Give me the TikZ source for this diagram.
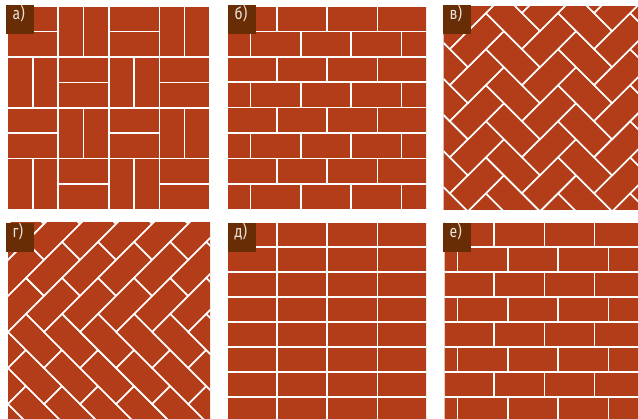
\documentclass[tikz,border=0pt]{standalone}
\usepackage{fontspec}
\newfontfamily\lblfont{Fira Sans}[FakeStretch=0.82]
\definecolor{brick}{RGB}{178,61,24}
\definecolor{lblbg}{RGB}{105,45,5}
\definecolor{lbltxt}{RGB}{236,228,220}
\tikzset{
  bk/.style={fill=brick, draw=white, line width=1.6pt},
  lblbox/.style={fill=lblbg, draw=none},
  lbl/.style={text=lbltxt, font=\lblfont\fontsize{17}{17}\selectfont, inner sep=0pt, anchor=base west}
}
\begin{document}
\begin{tikzpicture}[x=1pt,y=-1pt]
\useasboundingbox (0,0) rectangle (638,419);
\fill[white] (0,0) rectangle (638,419);

% ---- a) basket weave
\begin{scope}
\clip (8,6.7) rectangle (210,210);
\foreach \i in {0,...,3}{\foreach \j in {0,...,3}{
  \pgfmathsetmacro\X{7.5+50.6*\i}
  \pgfmathsetmacro\Y{6.3+50.8*\j}
  \pgfmathtruncatemacro\pp{mod(\i+\j,2)}
  \ifnum\pp=0
    \draw[bk] (\X,\Y) rectangle ++(50.6,25.4);
    \draw[bk] (\X,\Y+25.4) rectangle ++(50.6,25.4);
  \else
    \draw[bk] (\X,\Y) rectangle ++(25.3,50.8);
    \draw[bk] (\X+25.3,\Y) rectangle ++(25.3,50.8);
  \fi
}}
\end{scope}

% ---- b) running bond, half offset
\begin{scope}
\clip (228,6.7) rectangle (426,210);
\foreach \j in {0,...,7}{
  \pgfmathsetmacro\Y{5.9+25.45*\j}
  \pgfmathtruncatemacro\pp{mod(\j,2)}
  \pgfmathsetmacro\J{\pp==0 ? 276.7 : 250.5}
  \foreach \k in {-2,...,4}{
    \draw[bk] (\J+50.3*\k,\Y) rectangle ++(50.3,25.45);
  }
}
\end{scope}

% ---- v) herringbone 45 deg
\begin{scope}
\clip (443.7,6.7) rectangle (638,210);
\begin{scope}[shift={(540,103.2)}]
\begin{scope}[x={(18.03pt,18.03pt)},y={(-18.03pt,18.03pt)}]
\foreach \t in {-9,...,9}{\foreach \k in {-5,...,5}{
  \pgfmathtruncatemacro\ha{\t+2*\k}
  \pgfmathtruncatemacro\hb{\t-2*\k}
  \draw[bk] (\ha,\hb) -- ++(2,0) -- ++(0,1) -- ++(-2,0) -- cycle;
  \draw[bk] (\ha+2,\hb-1) -- ++(1,0) -- ++(0,2) -- ++(-1,0) -- cycle;
}}
\end{scope}
\end{scope}
\end{scope}

% ---- g) chevron of two diagonal bands
\begin{scope}
\clip (8,223) rectangle (210,419);
\begin{scope}[shift={(8,332)}]
\begin{scope}[x={(18.03pt,18.03pt)},y={(18.03pt,-18.03pt)}]
\foreach \k in {-7,...,7}{\foreach \n in {0,...,6}{
  \pgfmathtruncatemacro\sa{\k+1+2*\n}
  \draw[bk] (\sa,\k) -- ++(2,0) -- ++(0,1) -- ++(-2,0) -- cycle;
}}
\end{scope}
\begin{scope}[x={(18.03pt,-18.03pt)},y={(18.03pt,18.03pt)}]
\foreach \k in {-7,...,7}{\foreach \n in {0,...,6}{
  \pgfmathtruncatemacro\sa{\k+2*\n}
  \draw[bk] (\sa,\k) -- ++(2,0) -- ++(0,1) -- ++(-2,0) -- cycle;
}}
\end{scope}
\end{scope}
\end{scope}

% ---- d) stack bond
\begin{scope}
\clip (228,223) rectangle (426,419);
\foreach \j in {0,...,8}{
  \pgfmathsetmacro\Y{222.2+25*\j}
  \foreach \k in {-1,...,3}{
    \draw[bk] (276.7+50.3*\k,\Y) rectangle ++(50.3,25);
  }
}
\end{scope}

% ---- e) running bond, quarter offset
\begin{scope}
\clip (444.5,223) rectangle (638,419);
\foreach \j in {0,...,8}{
  \pgfmathsetmacro\Y{222.2+25*\j}
  \pgfmathtruncatemacro\pp{mod(\j,2)}
  \pgfmathsetmacro\J{\pp==0 ? 494 : 457.5}
  \foreach \k in {-2,...,4}{
    \draw[bk] (\J+50.3*\k,\Y) rectangle ++(50.3,25);
  }
}
\end{scope}

% ---- labels
\fill[lblbox] (6,5) rectangle (34,34);       \node[lbl] (la) at (12.5,20) {а)};
\fill[lblbox] (228,5) rectangle (256,34);    \node[lbl] (lb) at (234.5,20) {б)};
\fill[lblbox] (443,5) rectangle (471,34);    \node[lbl] (lv) at (449.5,20) {в)};
\fill[lblbox] (6,223) rectangle (34,252);    \node[lbl] (lg) at (12.5,238) {г)};
\fill[lblbox] (228,223) rectangle (256,252); \node[lbl] (ld) at (234.5,238) {д)};
\fill[lblbox] (443,223) rectangle (471,252); \node[lbl] (le) at (449.5,238) {е)};
\end{tikzpicture}
\end{document}
